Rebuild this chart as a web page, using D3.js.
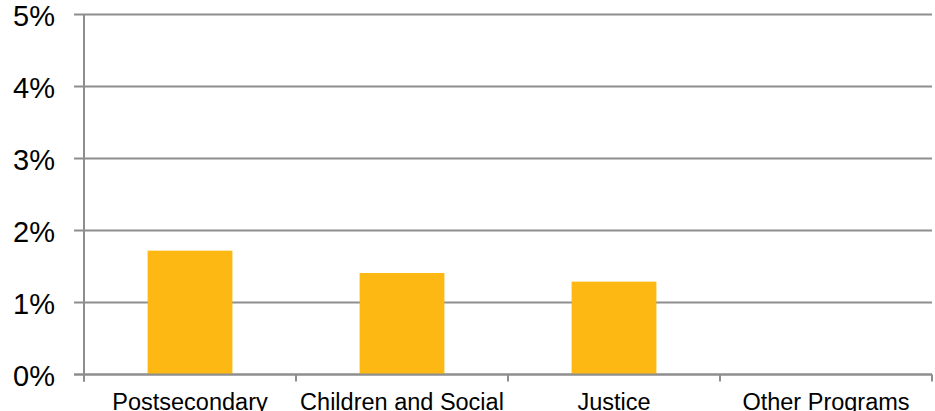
<!doctype html>
<html lang="en">
<head>
  <meta charset="utf-8">
  <title>Bar chart</title>
  <script src="https://cdn.jsdelivr.net/npm/d3@7"></script>
  <style>
    body { margin: 0; background: #fff; }
    svg { display: block; font-family: "Liberation Sans", Arial, sans-serif; }
  </style>
</head>
<body>
  <svg width="935" height="411"></svg>
  <script>
    // values (percent)
    var categories = ["Postsecondary", "Children and Social", "Justice", "Other Programs"];
    var values = [1.72, 1.41, 1.29, 0];
    var yTicks = [0, 1, 2, 3, 4, 5];

    var svg = d3.select("svg");
    var plotLeft = 84, plotRight = 932, plotTop = 14.5, plotBottom = 374.5; // don't call it "top", window.top is read-only!
    var grey = "#8e8e8e";

    var x = d3.scaleBand().domain(categories).range([plotLeft, plotRight]).paddingInner(0.6).paddingOuter(0.3);
    var xEdge = d3.scaleBand().domain(categories).range([plotLeft, plotRight]).padding(0); //for the tick marks between groups
    var y = d3.scaleLinear().domain([0, 5]).range([plotBottom, plotTop]);

    // gridlines + y ticks
    svg.append("g").selectAll("line")
      .data(yTicks)
      .enter()
      .append("line")
        .attr("x1", plotLeft - 10).attr("x2", plotRight)
        .attr("y1", d => y(d)).attr("y2", d => y(d))
        .style("stroke", grey).style("stroke-width", "2px");

    // y axis line
    svg.append("line")
      .attr("x1", plotLeft).attr("x2", plotLeft)
      .attr("y1", y(5)).attr("y2", y(0) + 7)
      .style("stroke", grey).style("stroke-width", "2px");

    svg.append("g").selectAll("text")
      .data(yTicks)
      .enter()
      .append("text")
        .attr("x", 55)
        .attr("y", d => y(d) + 11)
        .attr("text-anchor", "end")
        .style("font-size", "29px")
        .style("fill", "#000")
        .text(d => d + "%");

    // bars
    svg.append("g").selectAll("rect")
      .data(categories)
      .enter()
      .append("rect")
        .attr("x", d => x(d))
        .attr("width", x.bandwidth())
        .attr("y", (d, i) => y(values[i]))
        .attr("height", (d, i) => y(0) - y(values[i]))
        .style("fill", "#FDB813");

    // x axis ticks at band edges
    var edges = categories.map(d => xEdge(d)).concat([plotRight]);
    svg.append("g").selectAll("line")
      .data(edges)
      .enter()
      .append("line")
        .attr("x1", d => d).attr("x2", d => d)
        .attr("y1", y(0)).attr("y2", y(0) + 7)
        .style("stroke", grey).style("stroke-width", "2px");

    // redraw baseline on top of bars
    svg.append("line")
      .attr("x1", plotLeft - 10).attr("x2", plotRight)
      .attr("y1", y(0)).attr("y2", y(0))
      .style("stroke", grey).style("stroke-width", "2px");

    svg.append("g").selectAll("text")
      .data(categories)
      .enter()
      .append("text")
        .attr("x", d => xEdge(d) + xEdge.bandwidth() / 2)
        .attr("y", 410)
        .attr("text-anchor", "middle")
        .style("font-size", "23.5px")
        .style("fill", "#000")
        .text(d => d);
  </script>
</body>
</html>
